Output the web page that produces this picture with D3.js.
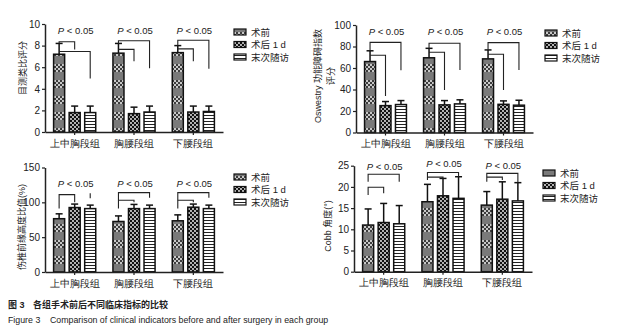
<!DOCTYPE html>
<html>
<head>
<meta charset="utf-8">
<script src="https://cdn.jsdelivr.net/npm/d3@7"></script>
<style>
    body { margin: 0; background: #fff; }
    svg { display: block; font-family: "Liberation Sans", "Noto Sans CJK SC", sans-serif; }
</style>
</head>
<body>
<div id="chart"></div>
<script>
// groups and series
const groups = ["上中胸段组", "胸腰段组", "下腰段组"];
const series = ["术前", "术后 1 d", "末次随访"];

// VAS score (mean, sd) per group -> series
const vasMean = [[7.2, 1.8, 1.8], [7.3, 1.7, 1.85], [7.35, 1.85, 1.9]];
const vasSd = [[1.0, 0.6, 0.6], [0.9, 0.6, 0.55], [0.65, 0.55, 0.5]];
const vasTicks = [0, 2, 4, 6, 8, 10];

// Oswestry score
const odiMean = [[66, 25, 26], [69.5, 25.7, 26.6], [68.5, 26.2, 25.4]];
const odiSd = [[10, 3.8, 3.7], [8.8, 4, 3.8], [8.3, 3.2, 4.6]];
const odiTicks = [0, 20, 40, 60, 80, 100];

// anterior vertebral height ratio (%)
const hgtMean = [[76.5, 92.5, 91], [72.5, 91, 91], [73.5, 93, 91]];
const hgtSd = [[7, 5, 5], [8, 6, 5], [8.5, 4.5, 5]];
const hgtTicks = [0, 50, 100, 150];

// Cobb angle
const cobbMean = [[11.0, 11.6, 11.3], [16.5, 17.9, 17.3], [15.7, 17.1, 16.7]];
const cobbSd = [[3.8, 4.5, 4.3], [4.1, 4.1, 5.1], [3.2, 4.1, 4.3]];
const cobbTicks = [0, 5, 10, 15, 20, 25];

// significance brackets: [group, fromSeries, toSeries, level, fromEnd, toEnd]
const vasBrackets = [[0, 0, 1, 8.35, 8.2, 7.65], [0, 0, 2, 7.45, 7.45, 4.95],
    [1, 0, 2, 8.45, 8.2, 5.9], [1, 0, 1, 7.65, 7.65, 6.55],
    [2, 0, 2, 8.5, 8.0, 5.85], [2, 0, 1, 7.7, 7.7, 6.55]];
const odiBrackets = [[0, 0, 2, 83.8, 76, 58], [0, 0, 1, 71.8, 71.8, 34],
    [1, 0, 2, 83, 78.4, 58.2], [1, 0, 1, 74.6, 74.6, 39.6],
    [2, 0, 2, 83.6, 76.8, 58.2], [2, 0, 1, 72.8, 72.8, 39.6]];
const hgtBrackets = [[0, 0, 1, 111, 91, 100], [0, 2, 2, 113, 106, 106],
    [1, 0, 2, 114, 91, 106.5], [1, 0, 1, 103, 103, 100],
    [2, 0, 2, 114, 91, 106.5], [2, 0, 1, 103, 103, 100]];
const cobbBrackets = [[0, 0, 2, 23.0, 21.2, 21.2], [0, 0, 1, 19.9, 18.1, 18.5],
    [1, 0, 2, 23.4, 21.6, 22.4], [1, 0, 1, 22.3, 22.3, 22.0],
    [2, 0, 2, 23.2, 21.2, 21.0], [2, 0, 1, 22.3, 22.3, 21.6]];

// height of the "P < 0.05" label per group
const vasPLabel = [9.1, 9.1, 9.1];
const odiPLabel = [90.5, 90.5, 90.5];
const hgtPLabel = [122.5, 122.5, 122.5];
const cobbPLabel = [24.1, 24.7, 24.2];

const captionCn = ["图 3", "各组手术前后不同临床指标的比较"];
const captionEn = ["Figure 3", "Comparison of clinical indicators before and after surgery in each group"];

const svg = d3.select("#chart").append("svg")
    .attr("width", 630)
    .attr("height", 334);

// fill patterns
const defs = svg.append("defs");
let pre = defs.append("pattern").attr("id", "pat0").attr("patternUnits", "userSpaceOnUse")
    .attr("width", 4).attr("height", 16);
pre.append("rect").attr("width", 4).attr("height", 16).attr("fill", "#7a7a7a");
pre.append("rect").attr("width", 4).attr("height", 8).attr("fill", "#c8c8c8");
[[0, 0], [2, 2], [0, 4], [2, 6]].forEach(p => {
    pre.append("rect").attr("x", p[0]).attr("y", p[1]).attr("width", 2).attr("height", 2).attr("fill", "#3c3c3c");
});

let post = defs.append("pattern").attr("id", "pat1").attr("patternUnits", "userSpaceOnUse")
    .attr("width", 4).attr("height", 4);
post.append("rect").attr("width", 4).attr("height", 4).attr("fill", "#111");
post.append("circle").attr("cx", 1).attr("cy", 1).attr("r", 0.9).attr("fill", "#fff");
post.append("circle").attr("cx", 3).attr("cy", 3).attr("r", 0.9).attr("fill", "#fff");

let last = defs.append("pattern").attr("id", "pat2").attr("patternUnits", "userSpaceOnUse")
    .attr("width", 4).attr("height", 3);
last.append("rect").attr("width", 4).attr("height", 3).attr("fill", "#fff");
last.append("rect").attr("y", 1).attr("width", 4).attr("height", 1).attr("fill", "#222");

const fills = ["url(#pat0)", "url(#pat1)", "url(#pat2)"];

function drawPanel(cfg) {
    let g = svg.append("g");

    let y = d3.scaleLinear().domain([0, cfg.max]).range([cfg.yBot, cfg.yTop]);
    let x0 = d3.scaleBand().domain(groups).range([cfg.x0, cfg.x1])
        .paddingInner(0.29).paddingOuter(0.145);
    let x1 = d3.scaleBand().domain(series).range([0, x0.bandwidth()]).paddingInner(0.29);
    let cx = (gi, si) => x0(groups[gi]) + x1(series[si]) + x1.bandwidth() / 2;

    // bars with error bars
    cfg.mean.forEach((row, gi) => {
        row.forEach((m, si) => {
            let bx = x0(groups[gi]) + x1(series[si]);
            let top = y(m + cfg.sd[gi][si]);
            g.append("line")
                .attr("x1", cx(gi, si)).attr("x2", cx(gi, si))
                .attr("y1", y(m)).attr("y2", top)
                .attr("stroke", "#111").attr("stroke-width", 1.5);
            g.append("line")
                .attr("x1", cx(gi, si) - 3.5).attr("x2", cx(gi, si) + 3.5)
                .attr("y1", top).attr("y2", top)
                .attr("stroke", "#111").attr("stroke-width", 1.5);
            g.append("rect")
                .attr("x", bx).attr("y", y(m))
                .attr("width", x1.bandwidth()).attr("height", y(0) - y(m))
                .attr("fill", fills[si])
                .attr("stroke", "#111").attr("stroke-width", 1.5);
        });
    });

    // brackets
    cfg.brackets.forEach(b => {
        let xa = cx(b[0], b[1]), xb = cx(b[0], b[2]);
        g.append("path")
            .attr("d", `M${xa},${y(b[4])}V${y(b[3])}H${xb}V${y(b[5])}`)
            .attr("fill", "none").attr("stroke", "#222").attr("stroke-width", 1.1);
    });

    // P labels
    groups.forEach((grp, gi) => {
        let t = g.append("text")
            .attr("x", x0(grp) + x0.bandwidth() / 2 + 1)
            .attr("y", y(cfg.pLabel[gi]))
            .attr("text-anchor", "middle")
            .attr("font-size", "9.5px").attr("fill", "#222");
        t.append("tspan").attr("font-style", "italic").text("P");
        t.append("tspan").text(" < 0.05");
    });

    // axes
    let yAxis = g.append("g")
        .attr("transform", `translate(${cfg.x0},0)`)
        .call(d3.axisLeft(y).tickValues(cfg.ticks).tickSize(3).tickSizeOuter(0).tickPadding(2));
    let xAxis = g.append("g")
        .attr("transform", `translate(0,${cfg.yBot})`)
        .call(d3.axisBottom(x0).tickSize(3).tickSizeOuter(0).tickPadding(5));
    [yAxis, xAxis].forEach(a => {
        a.select(".domain").attr("stroke", "#222").attr("stroke-width", 1.5);
        a.selectAll(".tick line").attr("stroke", "#222").attr("stroke-width", 1.2);
        a.selectAll("text").attr("fill", "#222").attr("font-family", null);
    });
    yAxis.selectAll("text").attr("font-size", "10px");
    xAxis.selectAll("text").attr("font-size", "9.5px");

    // y title
    let title = g.append("text")
        .attr("transform", `translate(${cfg.titleX},${cfg.titleY}) rotate(-90)`)
        .attr("text-anchor", "middle")
        .attr("font-size", "9px").attr("fill", "#222");
    cfg.title.forEach((line, i) => {
        title.append("tspan").attr("x", 0).attr("dy", i === 0 ? 0 : 13).text(line);
    });

    // legend
    series.forEach((s, si) => {
        let ly = cfg.legendY + si * 12.5;
        g.append("rect")
            .attr("x", cfg.legendX).attr("y", ly - 3)
            .attr("width", 12).attr("height", 6)
            .attr("fill", fills[si]).attr("stroke", "#111").attr("stroke-width", 1.2);
        g.append("text")
            .attr("x", cfg.legendX + 17).attr("y", ly + 3.5)
            .attr("font-size", "9.5px").attr("fill", "#222")
            .text(s);
    });
}

drawPanel({mean: vasMean, sd: vasSd, ticks: vasTicks, max: 10, brackets: vasBrackets, pLabel: vasPLabel,
    x0: 45, x1: 223, yTop: 24, yBot: 132, title: ["目测类比评分"], titleX: 26, titleY: 68,
    legendX: 234, legendY: 32});
drawPanel({mean: odiMean, sd: odiSd, ticks: odiTicks, max: 100, brackets: odiBrackets, pLabel: odiPLabel,
    x0: 356, x1: 533, yTop: 25, yBot: 132.5, title: ["Oswestry 功能障碍指数", "评分"], titleX: 321, titleY: 76,
    legendX: 545, legendY: 33});
drawPanel({mean: hgtMean, sd: hgtSd, ticks: hgtTicks, max: 150, brackets: hgtBrackets, pLabel: hgtPLabel,
    x0: 45, x1: 223, yTop: 167.5, yBot: 272, title: ["伤椎前缘高度比值(%)"], titleX: 25, titleY: 227,
    legendX: 234, legendY: 177});
drawPanel({mean: cobbMean, sd: cobbSd, ticks: cobbTicks, max: 25, brackets: cobbBrackets, pLabel: cobbPLabel,
    x0: 354, x1: 532, yTop: 165.7, yBot: 271.7, title: ["Cobb 角度(°)"], titleX: 331, titleY: 226,
    legendX: 543, legendY: 173});

// caption
svg.append("text").attr("x", 8).attr("y", 307.5)
    .attr("font-size", "9px").attr("font-weight", "bold").attr("fill", "#222")
    .text(captionCn[0]);
svg.append("text").attr("x", 33).attr("y", 307.5)
    .attr("font-size", "9px").attr("font-weight", "bold").attr("fill", "#222")
    .text(captionCn[1]);
svg.append("text").attr("x", 8).attr("y", 322.5)
    .attr("font-size", "8.8px").attr("fill", "#222")
    .text(captionEn[0]);
svg.append("text").attr("x", 50).attr("y", 322.5)
    .attr("font-size", "8.8px").attr("fill", "#222")
    .text(captionEn[1]);
</script>
</body>
</html>
